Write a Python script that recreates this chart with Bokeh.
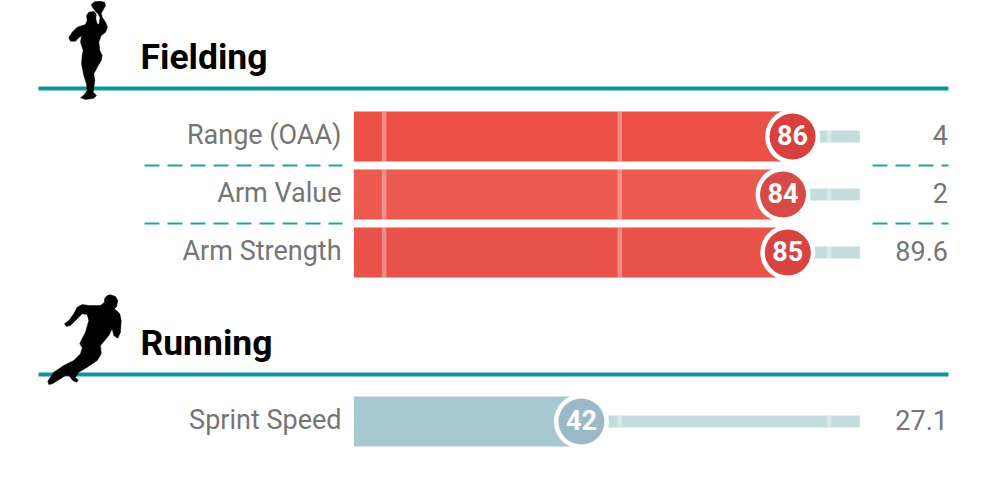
from bokeh.plotting import figure
from bokeh.models import Range1d, ColumnDataSource
from bokeh.core.properties import value
from bokeh.embed import file_html
from bokeh.resources import INLINE

# Data
sections = ["Fielding", "Running"]
labels = ["Range (OAA)", "Arm Value", "Arm Strength", "Sprint Speed"]
percentiles = [86, 84, 85, 42]
raw_values = ["4", "2", "89.6", "27.1"]
bar_colors = ["#EC4F46", "#EC5A50", "#E9534A", "#A8C8D0"]
dot_colors = ["#D8403D", "#D64B48", "#D8423F", "#9ABAC5"]
scale_ticks = [0.9, 50, 93.6]

# Layout (image pixels for y; x uses the percentile scale)
W, H = 976, 468
row_y = [136, 194, 252, 421]
text_y = [134.5, 192.5, 250.5, 419.5]
rule_y = [88, 374]
sep_y = [165, 223]
title_y = [56, 342]
X0, X100 = -5.4, 100
XPX = 4.8  # px per percentile
page_x = lambda px: (px - 379.3) / XPX

p = figure(width=W, height=H, output_backend="svg", toolbar_location=None,
           x_range=Range1d(page_x(0), page_x(W)), y_range=Range1d(H, 0),
           min_border=0, outline_line_color=None)
p.axis.visible = False
p.grid.visible = False
p.background_fill_color = "white"
p.border_fill_color = "white"

FONT = "Roboto"
TEAL = "#0F959D"
GRAY = "#757575"

# section rules
p.segment(page_x(38), rule_y, page_x(948), rule_y, line_color=TEAL, line_width=4)

# dashed separators
p.segment(page_x(144), sep_y, page_x(342), sep_y, line_color="#2A9FA8", line_width=2, line_dash="15 8")
p.segment(page_x(872), sep_y, page_x(948), sep_y, line_color="#2A9FA8", line_width=2, line_dash="15 8")

# silhouettes
fielder_x = [90.7,94,99.3,104,105,102.7,100.7,101.7,105,107,105,100.7,98.3,99.3,101.7,100.7,96.7,93.3,94.3,93.3,92.7,96,93.3,85,80,84,86.7,86,83.3,81,81.7,82.7,80,81,78.3,75,70,68.3,71.7,76.7,85,86.7,86,88.3,93.3,95.7,95.3,96.7,98.5,99.5,97.5,95.7,92.3]
fielder_y = [4,1.3,.7,1.7,5,9.3,12.7,16.7,21.7,26.7,31.7,35,41.7,50,55,60,66.7,73.3,80,86.7,91.7,95,97.7,99,97.3,94,90,83.3,75,63.3,55,50,41.7,35,37.3,40.7,40.7,37.3,31.7,26.7,24,20,15,11.7,11,13.3,18.3,23.3,24,17,13,11.7,7.3]
runner_x = [110,115,117.3,116,114,119.3,120.7,120,117.3,113.3,111.7,108.3,100,100.7,96.7,86.7,78.3,75,77.7,76,72.3,68.3,65,60,51.7,48.3,47.3,53.3,63.3,73.3,80,81.7,79.3,80.7,85,88.3,86.7,81.7,76.7,70,66,64,68.3,73.3,76.7,81.7,88.3,100,104,104,106.7]
runner_y = [294.3,296,300,306,308.3,313.3,320,331.7,337.7,335,328.3,335,345,353.3,360,366.7,371.7,376.7,380,381.7,380,375,375,378.3,383.3,384,380.7,371.7,365,360,353.3,347.3,343.3,340,331.7,320,314,313.3,318.3,325,326,323.3,320,313.3,306.7,304,305,305,301.7,298.3,295]
p.patch([page_x(v) for v in fielder_x], fielder_y, fill_color="black", line_color="black", line_width=0.5)
p.patch([page_x(v) for v in runner_x], runner_y, fill_color="black", line_color="black", line_width=0.5)

# titles
p.text([page_x(140)] * 2, title_y, text=sections, text_font=value(FONT), text_font_style="bold",
       text_font_size="35.5px", text_color="black", text_align="left", text_baseline="middle")

src = ColumnDataSource(dict(y=row_y, ty=text_y, pct=percentiles, label=labels, raw=raw_values,
                            bar=bar_colors, dot=dot_colors, pct_txt=[str(v) for v in percentiles]))

# tracks and bars
p.hbar(y="y", left=X0, right=X100, height=12, source=src, fill_color="#C3DDDD", line_color=None)
p.hbar(y="y", left=X0, right="pct", height=50, source=src, fill_color="bar", line_color=None)

# scale ticks: full height over the red bars, track height past the blue one
for t in scale_ticks:
    p.segment(t, [v - 25 for v in row_y[:3]], t, [v + 25 for v in row_y[:3]],
              line_color="white", line_alpha=0.33, line_width=4.5)
    if t > percentiles[3]:
        p.segment(t, row_y[3] - 6, t, row_y[3] + 6, line_color="white", line_alpha=0.33, line_width=4.5)

# bubbles
p.scatter(x="pct", y="y", size=55, source=src, fill_color="white", line_color=None)
p.scatter(x="pct", y="y", size=46, source=src, fill_color="dot", line_color=None)
p.text(x="pct", y="ty", text="pct_txt", source=src, text_font=value(FONT), text_font_style="bold",
       text_font_size="27px", text_color="white", text_align="center", text_baseline="middle")

# labels and values
p.text(x=page_x(341), y="ty", text="label", source=src, text_font=value(FONT), text_font_size="27px",
       text_color=GRAY, text_align="right", text_baseline="middle")
p.text(x=page_x(947.5), y="ty", text="raw", source=src, text_font=value(FONT), text_font_size="27px",
       text_color=GRAY, text_align="right", text_baseline="middle")

open("out.html", "w").write(file_html(p, INLINE))
